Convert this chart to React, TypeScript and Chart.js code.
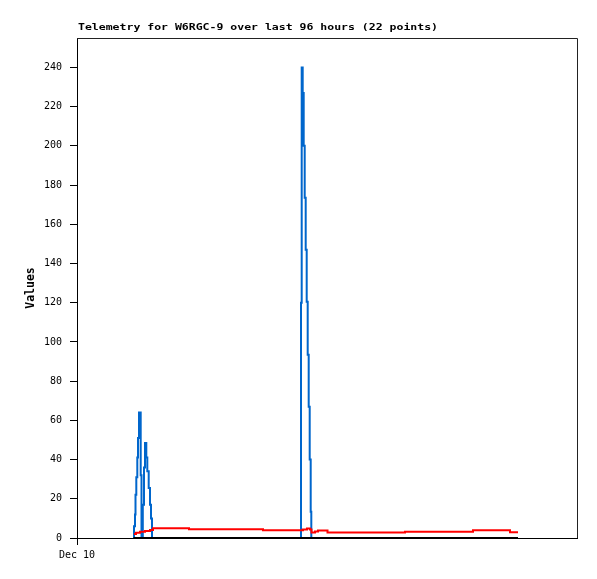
import React, { useEffect, useRef } from 'react';
import { Chart, registerables } from 'chart.js';

Chart.register(...registerables);

// ---- Data (x in hours since the start of the 96-hour window) ----
const TITLE = 'Telemetry for W6RGC-9 over last 96 hours (22 points)';
const Y_AXIS_TITLE = 'Values';
const X_TICK_LABELS = ['Dec 10'];
const X_TICK_HOURS = [0];
const X_MIN = 0;
const X_MAX = 96;
const Y_MIN = 0;
const Y_MAX = 255;
const Y_STEP = 20;

const blueHours = [
  10.848, 10.944, 11.136, 11.232, 11.386, 11.578, 11.712, 11.904, 12.23, 12.384,
  12.634, 12.864, 13.056, 13.306, 13.498, 13.766, 14.016, 14.208, 14.4,
  42.912, 43.008, 43.142, 43.334, 43.526, 43.718, 43.91, 44.102, 44.294, 44.486,
  44.678, 44.87, 44.986, 84.672,
];
const blueValues = [
  0, 6, 12, 22, 31, 41, 51, 64, 32, 0,
  17, 36, 48.5, 41, 34, 25.5, 17, 10, 0,
  0, 120, 240, 227, 200, 173.5, 147, 120.5, 93.5, 67,
  40, 13.4, 0, 0,
];

const redHours = [
  10.944, 11.328, 12.096, 13.056, 14.016, 14.592, 21.504, 35.712, 43.392, 44.16,
  44.736, 45.024, 45.696, 46.272, 48.096, 62.976, 76.032, 83.136, 84.672,
];
const redValues = [
  2.0, 2.7, 3.2, 3.6, 4.1, 5.0, 4.4, 3.9, 4.3, 4.9,
  4.3, 2.8, 3.3, 3.8, 2.8, 3.2, 3.9, 2.9, 2.9,
];

const blackHours = [10.848, 84.672];
const blackValues = [0, 0];

const BLUE = '#0066cc';
const RED = '#ff0000';
const BLACK = '#000000';

const zip = (xs: number[], ys: number[]) => xs.map((x, i) => ({ x, y: ys[i] }));

const framePlugin = {
  id: 'frameAndTitle',
  afterDraw(chart: any) {
    const { ctx, chartArea: a } = chart;
    ctx.save();
    ctx.strokeStyle = '#222';
    ctx.lineWidth = 1;
    ctx.beginPath();
    ctx.moveTo(a.left, a.top + 0.5);
    ctx.lineTo(a.right + 0.5, a.top + 0.5);
    ctx.lineTo(a.right + 0.5, a.bottom);
    ctx.stroke();
    ctx.restore();

    ctx.save();
    ctx.font = 'bold 9.5px "DejaVu Sans Mono"';
    const w = ctx.measureText(TITLE).width;
    ctx.translate(a.left + 1, 30);
    ctx.scale(360 / w, 1);
    ctx.textBaseline = 'alphabetic';
    ctx.textAlign = 'left';
    ctx.fillStyle = '#000';
    ctx.fillText(TITLE, 0, 0);
    ctx.restore();
  },
};

export default function App() {
  const ref = useRef<HTMLCanvasElement | null>(null);

  useEffect(() => {
    if (!ref.current) return;
    const chart = new Chart(ref.current, {
      type: 'line',
      data: {
        datasets: [
          {
            label: 'black',
            data: zip(blackHours, blackValues),
            borderColor: BLACK,
            borderWidth: 2,
            pointRadius: 0,
            stepped: true,
          },
          {
            label: 'red',
            data: zip(redHours, redValues),
            borderColor: RED,
            borderWidth: 2,
            pointRadius: 0,
            stepped: true,
          },
          {
            label: 'blue',
            data: zip(blueHours, blueValues),
            borderColor: BLUE,
            borderWidth: 2,
            pointRadius: 0,
            stepped: true,
          },
        ],
      },
      options: {
        animation: false,
        responsive: false,
        devicePixelRatio: 1,
        layout: { padding: { top: 38, right: 20, left: 0, bottom: 0 } },
        plugins: {
          legend: { display: false },
          tooltip: { enabled: false },
          title: { display: false },
        },
        scales: {
          x: {
            type: 'linear',
            min: X_MIN,
            max: X_MAX,
            afterBuildTicks: (s: any) => {
              s.ticks = X_TICK_HOURS.map((v) => ({ value: v }));
            },
            afterFit: (s: any) => {
              s.height = 41;
            },
            ticks: {
              callback: (v: any) => {
                const i = X_TICK_HOURS.indexOf(Number(v));
                return i >= 0 ? X_TICK_LABELS[i] : '';
              },
              maxRotation: 0,
              autoSkip: false,
              padding: 4,
              color: '#000',
              font: { family: 'DejaVu Sans Mono', size: 10 },
            },
            grid: {
              display: true,
              drawOnChartArea: false,
              drawTicks: true,
              tickLength: 7,
              color: '#000',
            },
            border: { display: true, color: '#000', width: 1 },
          },
          y: {
            type: 'linear',
            min: Y_MIN,
            max: Y_MAX,
            afterFit: (s: any) => {
              s.width = 77;
            },
            ticks: {
              stepSize: Y_STEP,
              includeBounds: false,
              padding: 8,
              color: '#000',
              font: { family: 'DejaVu Sans Mono', size: 10 },
            },
            grid: {
              display: true,
              drawOnChartArea: false,
              drawTicks: true,
              tickLength: 7,
              color: '#000',
            },
            border: { display: true, color: '#000', width: 1 },
            title: {
              display: true,
              text: Y_AXIS_TITLE,
              color: '#000',
              font: { family: 'DejaVu Sans Mono', size: 11.5, weight: 'bold' },
              padding: { top: 24, bottom: 0 },
            },
          },
        },
      },
      plugins: [framePlugin],
    } as any);
    return () => chart.destroy();
  }, []);

  return (
    <div style={{ position: 'absolute', left: 0, top: 0, width: 597, height: 579, background: '#fff' }}>
      <canvas ref={ref} width={597} height={579} style={{ display: 'block' }} />
    </div>
  );
}
